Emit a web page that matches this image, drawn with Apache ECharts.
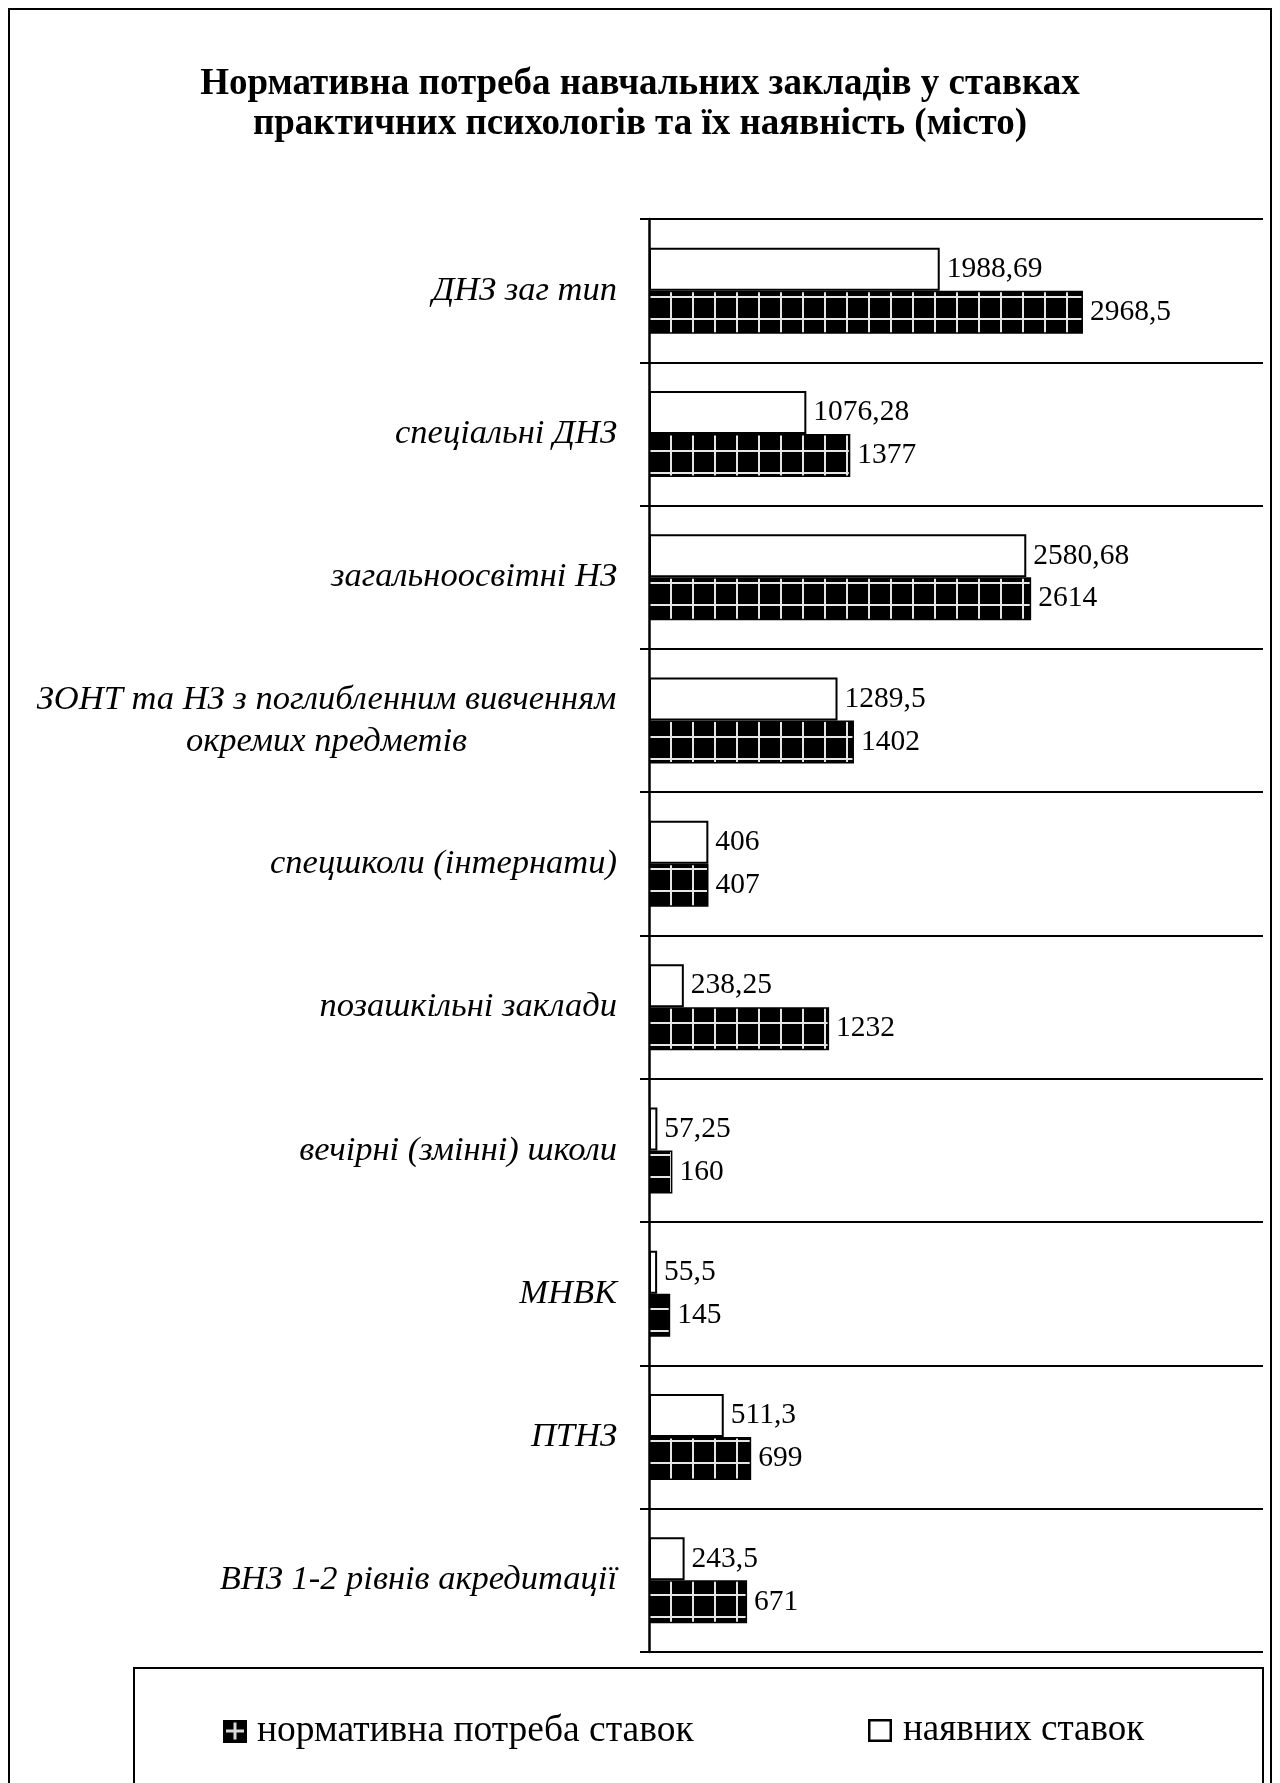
<!DOCTYPE html>
<html><head><meta charset="utf-8">
<script src="https://cdn.jsdelivr.net/npm/echarts@6/dist/echarts.min.js"></script>
<style>html,body{margin:0;padding:0;background:#fff}#c{width:1280px;height:1783px}</style>
</head><body><div id="c"></div>
<script>
const titleLines = ['Нормативна потреба навчальних закладів у ставках', 'практичних психологів та їх наявність (місто)'];
const categories = [
  'ДНЗ заг тип',
  'спеціальні ДНЗ',
  'загальноосвітні НЗ',
  'ЗОНТ та НЗ з поглибленним вивченням\nокремих предметів',
  'спецшколи (інтернати)',
  'позашкільні заклади',
  'вечірні (змінні) школи',
  'МНВК',
  'ПТНЗ',
  'ВНЗ 1-2 рівнів акредитації'
];
const seriesNames = ['нормативна потреба ставок', 'наявних ставок'];
const normValues = [2968.5, 1377, 2614, 1402, 407, 1232, 160, 145, 699, 671];
const availValues = [1988.69, 1076.28, 2580.68, 1289.5, 406, 238.25, 57.25, 55.5, 511.3, 243.5];

function makePattern() {
  const c = document.createElement('canvas');
  c.width = 22; c.height = 22;
  const x = c.getContext('2d');
  x.fillStyle = '#000'; x.fillRect(0, 0, 22, 22);
  x.fillStyle = '#e6e6e6';
  x.fillRect(10, 0, 2, 22);
  x.fillRect(0, 10, 22, 2);
  return c;
}
function makeIcon(filled) {
  const c = document.createElement('canvas');
  c.width = 24; c.height = 23;
  const x = c.getContext('2d');
  if (filled) {
    x.fillStyle = '#000'; x.fillRect(0, 0, 24, 23);
    x.fillStyle = '#d8d8d8';
    x.fillRect(10.5, 3, 3, 17);
    x.fillRect(3, 10, 18, 3);
  } else {
    x.fillStyle = '#fff'; x.fillRect(0, 0, 24, 23);
    x.strokeStyle = '#000'; x.lineWidth = 2.5; x.strokeRect(1.25, 1.25, 21.5, 20.5);
  }
  return 'image://' + c.toDataURL();
}
const pattern = { image: makePattern(), repeat: 'repeat' };
const fmt = p => String(p.value).replace('.', ',');
const serif = '"Liberation Serif", "Times New Roman", serif';

const chart = echarts.init(document.getElementById('c'), null, { renderer: 'canvas' });
chart.setOption({
  animation: false,
  backgroundColor: '#fff',
  title: {
    text: titleLines.join('\n'),
    left: 'center', top: 59,
    textStyle: { fontFamily: serif, fontWeight: 'bold', fontSize: 37, lineHeight: 40, color: '#000' }
  },
  graphic: [
    { type: 'rect', shape: { x: 9, y: 9, width: 1262, height: 1800 }, style: { fill: 'none', stroke: '#000', lineWidth: 2 }, z: 100 },
    { type: 'rect', shape: { x: 134, y: 1668, width: 1129, height: 200 }, style: { fill: 'none', stroke: '#000', lineWidth: 2 }, z: 100 }
  ],
  legend: [
    { data: [{ name: seriesNames[0], icon: makeIcon(true) }], left: 223, top: 1712, padding: 0, itemWidth: 24, itemHeight: 23,
      textStyle: { fontFamily: serif, fontSize: 37.5, color: '#000', padding: [0, 0, 0, 5] } },
    { data: [{ name: seriesNames[1], icon: makeIcon(false) }], left: 868, top: 1712, padding: 0, itemWidth: 24, itemHeight: 23,
      textStyle: { fontFamily: serif, fontSize: 37, color: '#000', padding: [0, 0, 0, 6] } }
  ],
  grid: { left: 649, right: 17, top: 219, bottom: 131, containLabel: false },
  xAxis: { type: 'value', min: 0, max: 4200, show: false },
  yAxis: {
    type: 'category', inverse: true, data: categories,
    axisLine: { show: true, lineStyle: { color: '#000', width: 2.5 } },
    axisTick: { show: true, length: 9, lineStyle: { color: '#000', width: 2 } },
    splitLine: { show: true, lineStyle: { color: '#000', width: 2 } },
    axisLabel: {
      margin: 32, color: '#000', fontFamily: serif, fontStyle: 'italic', fontSize: 34.5, lineHeight: 42,
      formatter: v => v.indexOf('\n') >= 0 ? v.split('\n').map(l => '{c|' + l + '}').join('\n') : v,
      rich: { c: { width: 581, align: 'center', fontFamily: serif, fontStyle: 'italic', fontSize: 34.5, lineHeight: 42, color: '#000' } }
    }
  },
  series: [
    {
      name: seriesNames[1], type: 'bar', data: availValues,
      barGap: '0%', barCategoryGap: '40%',
      itemStyle: { color: '#fff', borderColor: '#000', borderWidth: 2 },
      label: { show: true, position: 'right', distance: 7, formatter: fmt, fontFamily: serif, fontSize: 29.5, color: '#000' }
    },
    {
      name: seriesNames[0], type: 'bar', data: normValues,
      barGap: '0%', barCategoryGap: '40%',
      itemStyle: { color: pattern, borderColor: '#000', borderWidth: 1.5 },
      label: { show: true, position: 'right', distance: 7, formatter: fmt, fontFamily: serif, fontSize: 29.5, color: '#000' }
    }
  ]
});
</script></body></html>
